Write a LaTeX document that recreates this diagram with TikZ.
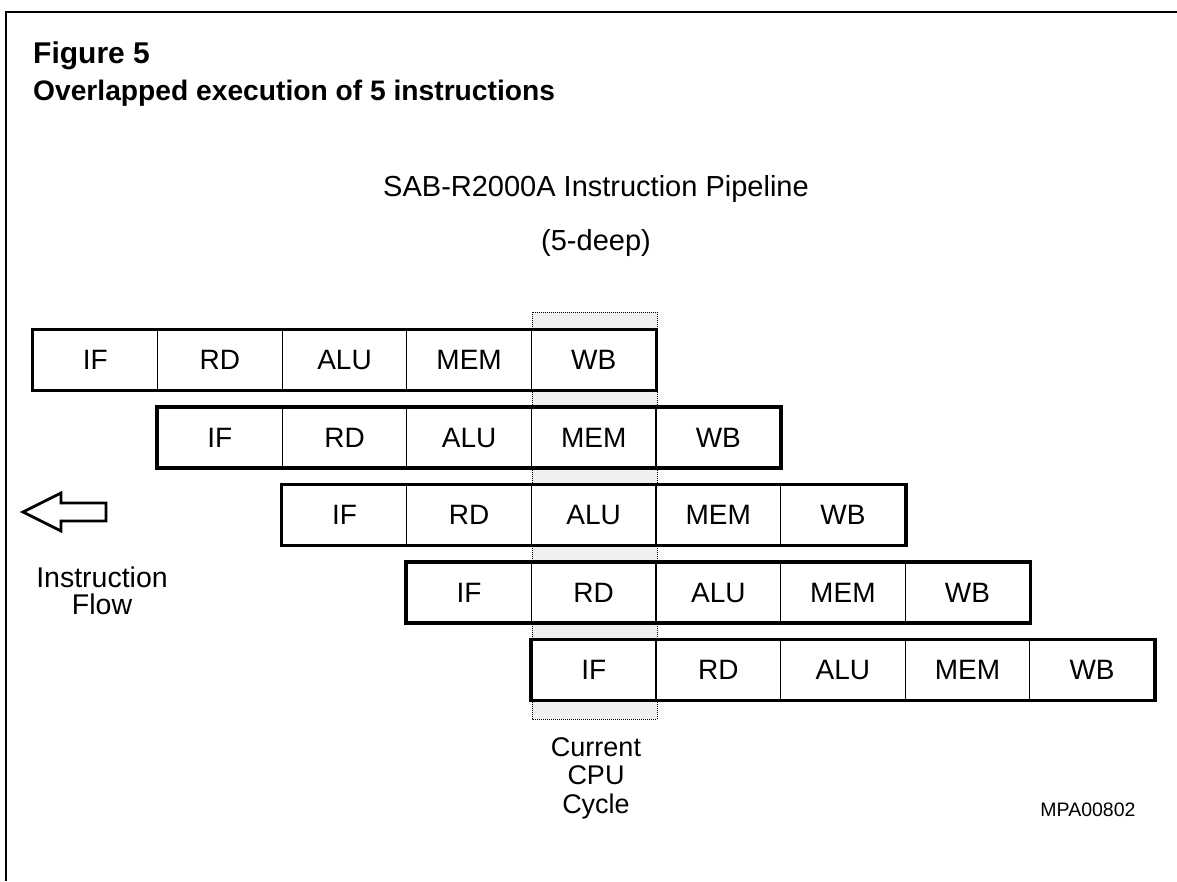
\documentclass[tikz,border=0pt]{standalone}
\usepackage{fontspec}
\setmainfont{Liberation Sans}
\begin{document}
\begin{tikzpicture}[x=1pt,y=-1pt,
  cell/.style={draw=black,line width=1.1pt,fill=white,minimum width=124.6pt,minimum height=60pt,inner sep=0pt,font=\fontsize{28}{30}\selectfont,anchor=center},
  rowbox/.style={draw=black,line width=3.6pt},
  txt/.style={font=\fontsize{29}{29}\selectfont,align=center,inner sep=0pt},
  cycle col/.style={draw=black,densely dotted,line width=1pt,fill=black!6},
  frame/.style={line width=2.4pt}]
\useasboundingbox (0,0) rectangle (1177,881);
% frame
\draw[frame] (6,881) -- (6,12) -- (1177,12);
% titles
\node[anchor=base west,inner sep=0pt,font=\bfseries\fontsize{30}{32}\selectfont] (fig) at (33,63) {Figure 5};
\node[anchor=base west,inner sep=0pt,font=\bfseries\fontsize{28.2}{32}\selectfont] (cap) at (33,100) {Overlapped execution of 5 instructions};
\node[txt,anchor=base] (title) at (596,196) {SAB-R2000A Instruction Pipeline};
\node[txt,anchor=base] (deep) at (596,250) {(5-deep)};
% current cycle column
\draw[cycle col] (532,312) rectangle (657,719);
% pipeline rows
\foreach \r in {0,...,4} {
  \foreach \lab [count=\k from 0] in {IF,RD,ALU,MEM,WB} {
    \node[cell] (c\r\k) at ({33+(\r+\k)*124.6+62.3},{360+\r*77.5}) {\lab};
  }
  \draw[rowbox] (c\r0.north west) rectangle (c\r4.south east);
}
% instruction flow arrow
\draw[line width=2.8pt,line join=miter] (23,512) -- (61,493) -- (61,503) -- (106,503) -- (106,521) -- (61,521) -- (61,531) -- cycle;
\node[txt,font=\fontsize{28.5}{26.5}\selectfont] (flow) at (102,591) {Instruction\\Flow};
\node[txt,anchor=north,font=\fontsize{27}{28.5}\selectfont] (cur) at (596,737) {Current\\CPU\\Cycle};
\node[inner sep=0pt,font=\fontsize{19.5}{20}\selectfont] (id) at (1088,810) {MPA00802};
\end{tikzpicture}
\end{document}
